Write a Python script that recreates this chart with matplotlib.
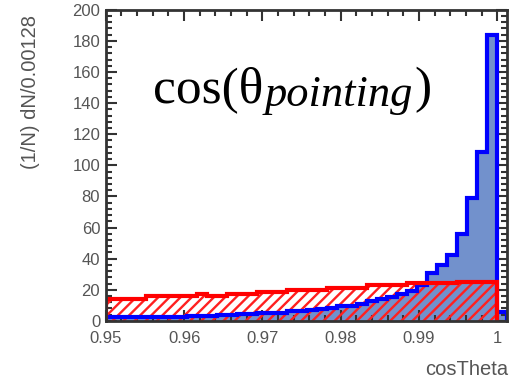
import numpy as np
import matplotlib
matplotlib.use("Agg")
import matplotlib.pyplot as plt
from matplotlib.ticker import MultipleLocator, FixedLocator

bin_width = 0.00128
# 39 bins up to 1.0 plus one overflow bin (blue only)
signal = [2.2, 2.4, 2.5, 2.6, 2.5, 2.7, 2.8, 2.7, 2.9, 3.0,
          3.2, 3.6, 3.8, 4.2, 4.4, 5.0, 5.2, 5.4, 6.2, 6.5,
          6.8, 7.8, 8.5, 9.3, 9.8, 11.2, 12.5, 14.0, 15.6, 17.5,
          19.0, 23.0, 30.5, 36.0, 42.5, 56.0, 79.0, 108.5, 183.5, 6.0]
background = [14.2, 14.2, 14.2, 14.2, 15.8, 15.8, 15.8, 15.8, 15.8, 17.2,
              16.2, 16.2, 17.0, 17.0, 17.0, 18.6, 18.6, 18.6, 20.0, 20.0,
              20.0, 20.0, 21.4, 21.4, 21.4, 21.4, 23.0, 23.0, 23.0, 23.0,
              24.2, 24.2, 24.2, 24.2, 24.2, 25.2, 25.2, 25.2, 25.2]
xticks = [0.95, 0.96, 0.97, 0.98, 0.99, 1.0]
xticklabels = ["0.95", "0.96", "0.97", "0.98", "0.99", "1"]
yticks = [0, 20, 40, 60, 80, 100, 120, 140, 160, 180, 200]

edges_sig = 1.0 + bin_width * np.arange(-39, 2)
edges_bkg = 1.0 + bin_width * np.arange(-39, 1)

plt.rcParams['font.family'] = ['Liberation Sans', 'DejaVu Sans']
plt.rcParams['hatch.linewidth'] = 1.7

W, H = 516, 378
fig = plt.figure(figsize=(W / 100, H / 100), dpi=100)
ax = fig.add_axes([0.205, 0.151, 0.778, 0.823])

ax.stairs(signal, edges_sig, fill=True, facecolor='#7291cc', edgecolor='none', zorder=1)
ax.stairs(background, edges_bkg, fill=True, facecolor='none', edgecolor='#ff2020',
          hatch='///', linewidth=0, zorder=2)
ax.stairs(signal, edges_sig, color='#0000ff', linewidth=3, zorder=3)
ax.stairs(background, edges_bkg, color='#ff0000', linewidth=3, zorder=4)

ax.set_xlim(0.95, 1.0 + bin_width)
ax.set_ylim(0, 200)

ax.xaxis.set_major_locator(FixedLocator(xticks))
ax.set_xticklabels(xticklabels)
ax.xaxis.set_minor_locator(MultipleLocator(0.002))
ax.yaxis.set_major_locator(FixedLocator(yticks))
ax.yaxis.set_minor_locator(MultipleLocator(4))

ax.tick_params(which='both', direction='in', top=True, right=True,
               colors='#333333', labelcolor='#555555', labelsize=12, width=1.5)
ax.tick_params(which='major', length=8)
ax.tick_params(which='minor', length=4)
ax.tick_params(axis='x', pad=7)
ax.tick_params(axis='y', pad=4)
for s in ax.spines.values():
    s.set_linewidth(2)
    s.set_color('#333333')
    s.set_zorder(10)

ax.set_ylabel('(1/N) dN/0.00128', fontsize=14.5, color='#555555')
ax.yaxis.set_label_coords(-0.165, 0.735)
fig.text(508 / W, 1 - 375 / H, 'cosTheta', fontsize=14.5, color='#555555',
         ha='right', va='baseline')

# Title: cos(θ_pointing) built from consecutive texts
renderer = fig.canvas.get_renderer()
serif = ['Liberation Serif', 'DejaVu Serif']
x0 = 153 / W
base_main = 1 - 102 / H
base_sub = 1 - 106 / H
t1 = fig.text(x0, base_main, 'cos(θ', fontsize=37, family=serif, ha='left', va='baseline')
x1 = t1.get_window_extent(renderer).x1 / W
t2 = fig.text(x1 + 1 / W, base_sub, 'pointing', fontsize=32, family=serif, style='italic',
              ha='left', va='baseline')
x2 = t2.get_window_extent(renderer).x1 / W
fig.text(x2 + 2 / W, base_main, ')', fontsize=37, family=serif, ha='left', va='baseline')

fig.savefig('out.png', dpi=100)
